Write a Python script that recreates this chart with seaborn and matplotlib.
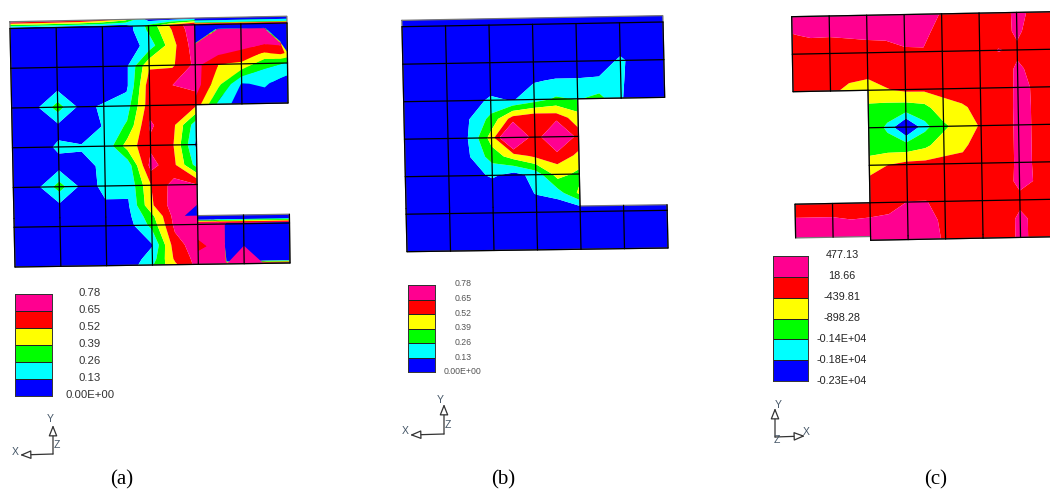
import numpy as np
import matplotlib
matplotlib.use("Agg")
import matplotlib.pyplot as plt
from matplotlib.colors import ListedColormap
import seaborn as sns

n = np.nan
BAND_COLORS = ["#0000FF", "#00FFFF", "#00FF00", "#FFFF00", "#FF0000", "#FF0090"]

LEVELS_AB = [0.0, 0.13, 0.26, 0.39, 0.52, 0.65, 0.78]
LEVELS_C = [-2300, -1800, -1400, -898.28, -439.81, 18.66, 477.13]
LABELS_AB = ["0.78", "0.65", "0.52", "0.39", "0.26", "0.13", "0.00E+00"]
LABELS_C = ["477.13", "18.66", "-439.81", "-898.28", "-0.14E+04", "-0.18E+04", "-0.23E+04"]

# ---- panel (a): nodal values, half-cell columns ----
HALF_COLS_A = [0, .5, 1, 1.5, 2, 2.5, 3, 3.5, 4, 4.5, 5, 5.5, 6]
A_ROWS = [-.17, 0, .12, .5, 1, 1.5, 2, 2.5, 3, 3.5, 4, 4.5, 4.78, 5, 5.5, 5.85, 6]
A_VALUES = [
    [.72, .72, .70, .68, .60, .45, .05, .03, .05, .03, .03, .03, .03],
    [.03, .03, .03, .03, .03, .05, .30, .55, .75, .75, .75, .75, .75],
    [.03, .03, .03, .03, .03, .05, .28, .52, .74, .05, .05, .05, .05],
    [.03, .03, .03, .03, .03, .05, .18, .47, .72, .74, .70, .68, .50],
    [.03, .03, .03, .03, .03, .10, .50, .50, .68, .55, .45, .36, .30],
    [.03, .03, .09, .03, .03, .10, .60, .65, .70, .20, .10, .12, .10],
    [.03, .09, .32, .09, .15, .20, .60, .62, .55, .10, .05, .05, .05],
    [.03, .05, .09, .05, .14, .28, .67, .55, .18, n, n, n, n],
    [.03, .07, .15, .14, .15, .45, .62, .52, .10, n, n, n, n],
    [.03, .06, .09, .10, .15, .18, .70, .55, .20, n, n, n, n],
    [.03, .09, .32, .09, .15, .15, .52, .70, .65, n, n, n, n],
    [.03, .03, .09, .03, .12, .12, .50, .72, .70, n, n, n, n],
    [.03, .03, .03, .03, .05, .10, .35, .70, .70, .05, .05, .05, .05],
    [.03, .03, .03, .03, .03, .08, .30, .68, .70, .70, .70, .70, .70],
    [.03, .03, .03, .03, .03, .04, .12, .60, .72, .75, .08, .05, .05],
    [.03, .03, .03, .03, .03, .05, .20, .55, .70, .75, .75, .10, .30],
    [.03, .03, .03, .03, .03, .06, .25, .50, .70, .70, .75, .65, .65],
]
# upper-right leg of (a), which has its own finer stripes
A_TOP_COLS = [4, 4.5, 5, 5.5, 5.85, 6]
A_TOP_ROWS = [-.17, -.06, 0, .04, .12, .5, .75, 1, 1.5, 2]
A_TOP_VALUES = [
    [.03, .03, .03, .03, .03, .03],
    [.20, .20, .20, .20, .20, .20],
    [.75, .75, .75, .75, .75, .75],
    [-5, -5, -5, -5, -5, -5],
    [-5, .68, .72, .70, -5, -5],
    [.68, .72, .72, .66, .68, -5],
    [.72, .66, .60, .50, .55, .50],
    [.70, .52, .50, .30, .27, .25],
    [.72, .42, .12, .15, .08, .05],
    [.60, .22, .05, .05, .05, .05],
]
# lower-right leg of (a)
A_LOW_COLS = [4, 4.58, 4.62, 6]
A_LOW_ROWS = [4.78, 4.87, 4.97, 5.02, 5.55, 5.92, 6]
A_LOW_VALUES = [
    [.03, .03, .03, .03],
    [.05, .05, .05, .05],
    [.72, .72, .72, .72],
    [.75, .75, -5, -5],
    [.60, .75, -5, -5],
    [.75, .75, .03, .03],
    [.75, .75, .72, .72],
]
# pink peak on the lower edge of (a): pink where the value is at least 1
A_PEAK_COLS = [4.62, 5, 5.42]
A_PEAK_ROWS = [5.55, 6]
A_PEAK_VALUES = [[0, 1, 0], [1, 2, 1]]
# blue wedge at the lower notch corner of (a): blue where the value is at least 1
A_WEDGE_COLS = [3.72, 4]
A_WEDGE_ROWS = [4.5, 4.78]
A_WEDGE_VALUES = [[0, 1], [1, 2]]

# ---- panel (b) ----
HALF_COLS_B = HALF_COLS_A
B_ROWS = [-.17, 0, .5, 1, 1.5, 2, 2.5, 3, 3.5, 4, 4.5, 4.85, 5.5, 6]
B_VALUES = [
    [.03] * 13,
    [.03] * 13,
    [.03] * 13,
    [.03, .03, .03, .03, .03, .03, .03, .03, .03, .03, .16, .03, .03],
    [.03, .03, .03, .03, .03, .03, .12, .14, .14, .15, .15, .03, .03],
    [.03, .03, .03, .05, .16, .12, .20, .28, .25, .30, .14, .03, .03],
    [.03, .03, .03, .13, .30, .58, .63, .60, .45, n, n, n, n],
    [.03, .03, .03, .14, .45, 1.0, .53, .95, .58, n, n, n, n],
    [.03, .03, .03, .13, .32, .45, .55, .58, .50, n, n, n, n],
    [.03, .03, .03, .08, .15, .08, .18, .45, .35, n, n, n, n],
    [.03, .03, .03, .03, .03, .03, .14, .20, .42, n, n, n, n],
    [.03, .03, .03, .03, .03, .03, .03, .05, .13, .03, .03, .03, .03],
    [.03] * 13,
    [.03] * 13,
]

# ---- panel (c) ----
HALF_COLS_C = [0, .5, 1, 1.5, 2, 2.5, 3, 3.5, 4, 4.5, 5, 5.5, 6, 6.5, 7]
C_ROWS = [0, .5, 1, 1.5, 2, 2.5, 3, 3.5, 4, 4.5, 5, 5.5, 5.9, 6]
C_VALUES = [
    [200, 200, 200, 200, 200, 200, 200, 150, 0, -200, -200, -400, 200, -150, -200],
    [0, 60, 50, 80, 120, 150, 200, 150, -200, -200, -200, -200, 100, -200, -200],
    [-200, -200, -200, -200, -200, -200, -50, -20, -200, -200, -200, 40, -60, -200, -200],
    [-200, -200, -200, -200, -300, -200, -200, -200, -200, -200, -200, -200, 80, -100, -200],
    [-200, -200, -300, -600, -650, -470, -350, -350, -300, -200, -200, -200, 90, -20, -200],
    [n, n, n, n, -1000, -1100, -1150, -1050, -600, -500, -300, -200, 100, -20, -200],
    [n, n, n, n, -1000, -1500, -2350, -1550, -1000, -650, -400, -200, 100, -20, -200],
    [n, n, n, n, -1050, -1150, -1200, -1000, -650, -500, -300, -200, 100, -20, -200],
    [n, n, n, n, -750, -440, -300, -300, -300, -350, -200, -200, 100, -20, -200],
    [n, n, n, n, -200, -200, -200, -200, -200, -200, -200, -200, 120, -20, -200],
    [-200, -200, -200, -200, -200, -200, 30, 30, -100, -200, -200, -200, -80, -200, -200],
    [100, 100, 100, 50, 80, 150, 200, 200, -100, -200, -200, -200, 100, -100, -200],
    [100, 100, 100, 100, 100, 150, 200, 200, -50, -200, -200, -200, 100, -100, -200],
    [n, n, n, n, 100, 150, 200, 200, -50, -200, -200, -200, 100, -100, -200],
]

sns.set_theme(style="white")
plt.rcParams["font.family"] = ["Liberation Sans", "DejaVu Sans"]

W, H = 1050, 492
fig = plt.figure(figsize=(W / 100, H / 100), dpi=100, facecolor="white")
ax = fig.add_axes([0, 0, 1, 1])
ax.set_xlim(0, W)
ax.set_ylim(H, 0)
ax.axis("off")
cmap = ListedColormap(BAND_COLORS)


def mapper(tl, tr, bl, br, nu, nv):
    tl, tr, bl, br = map(np.asarray, (tl, tr, bl, br))

    def f(u, v):
        s, t = np.asarray(u) / nu, np.asarray(v) / nv
        x = (1 - s) * (1 - t) * tl[0] + s * (1 - t) * tr[0] + (1 - s) * t * bl[0] + s * t * br[0]
        y = (1 - s) * (1 - t) * tl[1] + s * (1 - t) * tr[1] + (1 - s) * t * bl[1] + s * t * br[1]
        return x, y
    return f


def fill(f, cols, rows, values, levels):
    Z = np.ma.masked_invalid(np.array(values, dtype=float))
    U, V = np.meshgrid(cols, rows)
    X, Y = f(U, V)
    # the outer bands are left open so that no seam shows inside them
    open_levels = [-1e6] + list(levels[1:-1]) + [1e6]
    ax.contourf(X, Y, Z, levels=open_levels, colors=BAND_COLORS,
                corner_mask=False, antialiased=True, zorder=1)


def sharp(f, cols, rows, values, color):
    U, V = np.meshgrid(cols, rows)
    X, Y = f(U, V)
    ax.contourf(X, Y, np.array(values, dtype=float), levels=[1, 3], colors=[color],
                antialiased=True, zorder=1)


def mesh(f, nu, nv, in_notch, notch_v, outline):
    vb = sorted(set(list(range(nv + 1)) + list(notch_v)))
    for u in range(nu + 1):
        for a, b in zip(vb[:-1], vb[1:]):
            if not in_notch(u, (a + b) / 2):
                x, y = f([u, u], [a, b])
                ax.plot(x, y, color="black", lw=0.9, zorder=3)
    for v in range(nv + 1):
        for a in range(nu):
            if not in_notch(a + .5, v):
                x, y = f([a, a + 1], [v, v])
                ax.plot(x, y, color="black", lw=0.9, zorder=3)
    ou, ov = zip(*outline)
    x, y = f(ou, ov)
    ax.plot(x, y, color="#777777", lw=0.9, zorder=2, solid_joinstyle="miter")


fa = mapper((10, 28.5), (287, 23), (15, 267), (290, 263), 6, 6)
fill(fa, HALF_COLS_A, A_ROWS, A_VALUES, LEVELS_AB)
fill(fa, A_TOP_COLS, A_TOP_ROWS, A_TOP_VALUES, LEVELS_AB)
fill(fa, A_LOW_COLS, A_LOW_ROWS, A_LOW_VALUES, LEVELS_AB)
sharp(fa, A_PEAK_COLS, A_PEAK_ROWS, A_PEAK_VALUES, BAND_COLORS[5])
sharp(fa, A_WEDGE_COLS, A_WEDGE_ROWS, A_WEDGE_VALUES, BAND_COLORS[0])
mesh(fa, 6, 6, lambda u, v: u > 4 and 2 < v < 4.78, [4.78],
     [(0, -.17), (6, -.17), (6, 2), (4, 2), (4, 4.78), (6, 4.78), (6, 6), (0, 6), (0, -.17)])

fb = mapper((402, 26.7), (663, 22), (407, 251.7), (668, 248), 6, 6)
fill(fb, HALF_COLS_B, B_ROWS, B_VALUES, LEVELS_AB)
mesh(fb, 6, 6, lambda u, v: u > 4 and 2 < v < 4.85, [4.85],
     [(0, -.17), (6, -.17), (6, 2), (4, 2), (4, 4.85), (6, 4.85), (6, 6), (0, 6), (0, -.17)])

fc = mapper((791.7, 16.7), (1054, 11.7), (795.7, 241.7), (1058, 236.7), 7, 6)
fill(fc, HALF_COLS_C, C_ROWS, C_VALUES, LEVELS_C)
mesh(fc, 7, 6, lambda u, v: (u < 2 and 2 < v < 5) or (u < 2 and v > 5.9), [5.9],
     [(0, 0), (7, 0), (7, 6), (2, 6), (2, 5.9), (0, 5.9), (0, 5), (2, 5), (2, 2), (0, 2), (0, 0)])


def legend(box, labels, lx, lys, fs, color):
    x0, y0, x1, y1 = box
    lax = fig.add_axes([x0 / W, 1 - y1 / H, (x1 - x0) / W, (y1 - y0) / H])
    band = np.arange(len(BAND_COLORS))[::-1].reshape(-1, 1)
    sns.heatmap(band, ax=lax, cmap=cmap, cbar=False, linewidths=0.6, linecolor="#222222",
                xticklabels=False, yticklabels=False, vmin=-.5, vmax=5.5)
    for s in lax.spines.values():
        s.set_visible(True)
        s.set_color("#333333")
        s.set_linewidth(0.7)
    for t, y in zip(labels, np.linspace(lys[0], lys[1], len(labels))):
        ax.text(lx, y, t, ha="center", va="center", fontsize=fs, color=color)


legend((15, 294, 52, 396), LABELS_AB, 90, (293, 395), 8.2, "#333333")
legend((408, 285, 435, 372), LABELS_AB, 463, (284, 372), 6.3, "#555555")
legend((773, 256, 808, 381), LABELS_C, 842, (255, 381), 7.8, "#222222")


def triad(o, ytip, xtip, ylab, xlab, zlab):
    kw = dict(arrowstyle="-|>,head_length=0.55,head_width=0.22", color="#333333", lw=0.9,
              fc="white", shrinkA=0, shrinkB=0)
    ax.annotate("", xy=ytip, xytext=o, arrowprops=kw)
    ax.annotate("", xy=xtip, xytext=o, arrowprops=kw)
    for p, s in ((ylab, "Y"), (xlab, "X"), (zlab, "Z")):
        ax.text(p[0], p[1], s, ha="center", va="center", fontsize=7.5, color="#445566")


triad((53, 454), (53, 425), (20, 455), (50, 419), (15, 452), (57, 445))
triad((444, 434), (444, 404), (410, 435), (440, 400), (405, 431), (448, 425))
triad((775, 437), (775, 408), (805, 436), (778, 405), (806, 432), (777, 440))

for x, s in ((122, "(a)"), (503, "(b)"), (936, "(c)")):
    ax.text(x, 480, s, ha="center", va="center", fontsize=15, family="Liberation Serif", color="black")

fig.savefig("out.png", dpi=100, facecolor="white")
